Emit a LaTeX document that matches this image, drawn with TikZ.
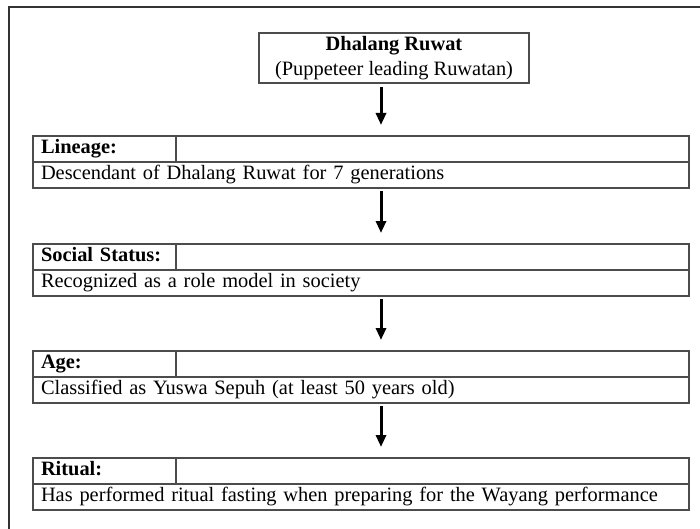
\documentclass[tikz,border=0pt]{standalone}
\usepackage{fontspec}
\setmainfont{Liberation Serif}
\usepackage{tikz}
\usetikzlibrary{arrows.meta, positioning}
\tikzstyle{every node}=[font=\fontsize{20.4}{24.5}\selectfont]
\tikzset{CellStyle/.style = {
			      shape          = rectangle,
			      draw           = black!70,
			      line width     = 1.2pt,
			      inner xsep     = 8pt,
			      inner ysep     = 0pt,
			      outer sep      = 0pt,
			      align          = left,
			      text height    = 14pt,
			      text depth     = 4.5pt,
			      minimum height = 26pt}
						}
\tikzset{KeyCell/.style  = {CellStyle, text width = 127pt, anchor = north west}}
\tikzset{EmptyCell/.style = {CellStyle, text width = 497pt}}
\tikzset{BodyCell/.style = {CellStyle, text width = 640pt, anchor = north west}}
\tikzset{TopStyle/.style = {
			      shape          = rectangle,
			      draw           = black!70,
			      line width     = 1.2pt,
			      align          = center,
			      inner sep      = 0pt,
			      minimum width  = 270pt,
			      minimum height = 50pt}
						}
\tikzset{ArrowStyle/.style = {line width = 3pt, -{Triangle[length=12pt,width=10pt]},
			      shorten <= 3pt, shorten >= 11pt}}

\begin{document}
\begin{tikzpicture}[x=1pt,y=-1pt]
							\useasboundingbox (0,0) rectangle (700,529);
							\clip (0,0) rectangle (700,529);
							\draw[black!80, line width=2.2pt] (9,7) rectangle (720,550);

							\draw (394,58) node[TopStyle] (0T) {\textbf{Dhalang Ruwat}\\(Puppeteer leading Ruwatan)};
							\coordinate (ax) at (381,0);

							\draw (33,136) node[KeyCell]   (1K) {\textbf{Lineage:}};
							\node[EmptyCell, right=0pt of 1K] (1V) {};
							\draw (1K.south west) node[BodyCell] (1B) {Descendant of Dhalang Ruwat for 7 generations};

							\draw (33,244) node[KeyCell]   (2K) {\textbf{Social Status:}};
							\node[EmptyCell, right=0pt of 2K] (2V) {};
							\draw (2K.south west) node[BodyCell] (2B) {Recognized as a role model in society};

							\draw (33,351) node[KeyCell]   (3K) {\textbf{Age:}};
							\node[EmptyCell, right=0pt of 3K] (3V) {};
							\draw (3K.south west) node[BodyCell] (3B) {Classified as Yuswa Sepuh (at least 50 years old)};

							\draw (33,458) node[KeyCell]   (4K) {\textbf{Ritual:}};
							\node[EmptyCell, right=0pt of 4K] (4V) {};
							\draw (4K.south west) node[BodyCell] (4B) {Has performed ritual fasting when preparing for the Wayang performance};

							\draw[ArrowStyle]    (0T.south -| ax) -- (1V.north -| ax);
							\draw[ArrowStyle]    (1B.south -| ax) -- (2V.north -| ax);
							\draw[ArrowStyle]    (2B.south -| ax) -- (3V.north -| ax);
							\draw[ArrowStyle]    (3B.south -| ax) -- (4V.north -| ax);
\end{tikzpicture}
\end{document}
